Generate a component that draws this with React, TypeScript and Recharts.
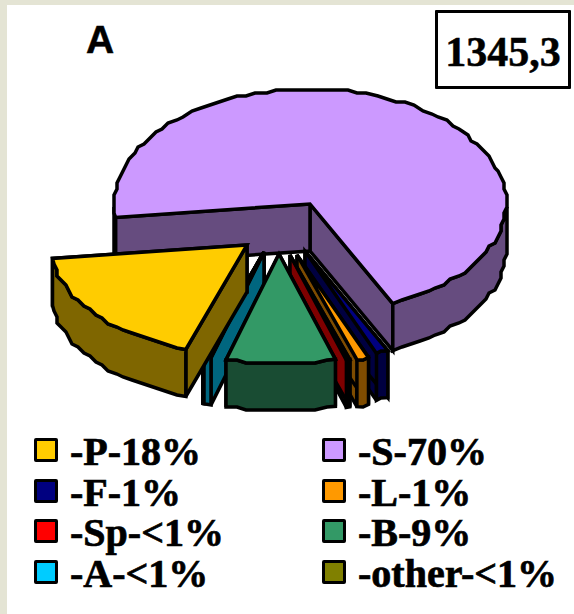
import React from "react";
import { PieChart, Pie } from "recharts";

const WIDTH = 574;
const HEIGHT = 614;

// Share of each component, in sweep order around the disc.
const names = ["S", "P", "other", "A", "B", "Sp", "L", "F"];
const shares = [70, 18, 0.1, 0.6, 9, 0.3, 1, 1];
const fills = ["#CC99FF", "#FFCC00", "#808000", "#00CCFF", "#339966", "#FF0000", "#FF9900", "#000080"];

// Back-to-front painting order of the exploded slices.
const paintOrder = ["S", "F", "L", "Sp", "other", "A", "P", "B"];

// How far each slice is pulled away from the disc centre.
const pullX = { S: 0, P: -63, other: -46, A: -46, B: -31, Sp: -20, L: -13, F: -5 };
const pullY = { S: 0, P: 41, other: 48, A: 48, B: 50, Sp: 51, L: 51, F: 47 };

const legendRows = [
  ["-P-18%", "#FFCC00", "-S-70%", "#CC99FF"],
  ["-F-1%", "#000080", "-L-1%", "#FF9900"],
  ["-Sp-<1%", "#FF0000", "-B-9%", "#339966"],
  ["-A-<1%", "#00CCFF", "-other-<1%", "#808000"],
];

const pieData = names.map((name, i) => ({ name, share: shares[i], fill: fills[i] }));

const SQUASH_BACK = 115 / 196;
const SQUASH_FRONT = 110 / 196;
const DEPTH = 47;
const RIM_GRID = 3;

function halve(hex: string) {
  const n = parseInt(hex.slice(1), 16);
  const r = (n >> 16) >> 1;
  const g = ((n >> 8) & 255) >> 1;
  const b = (n & 255) >> 1;
  return `rgb(${r},${g},${b})`;
}

function rimPoint(cx: number, cy: number, r: number, deg: number) {
  const a = (deg * Math.PI) / 180;
  const s = Math.sin(a);
  return [cx + r * Math.cos(a), cy - r * s * (s > 0 ? SQUASH_BACK : SQUASH_FRONT)];
}

// Rim outline on a coarse grid, which gives the edge its stepped look.
function rimPath(cx: number, cy: number, r: number, from: number, to: number) {
  const pts: number[][] = [];
  const steps = Math.max(1, Math.ceil(Math.abs(to - from) / 3));
  for (let i = 0; i <= steps; i++) {
    const p = rimPoint(cx, cy, r, from + ((to - from) * i) / steps);
    if (i === 0 || i === steps) pts.push(p);
    else pts.push([Math.round(p[0] / RIM_GRID) * RIM_GRID, Math.round(p[1] / RIM_GRID) * RIM_GRID]);
  }
  return pts;
}

const toPath = (pts: number[][]) =>
  "M" + pts.map((p) => `${p[0].toFixed(1)},${p[1].toFixed(1)}`).join("L") + "Z";

// One extruded slice: radial walls, the front part of the rim, then the top face.
function slice3d(props: any, only: string) {
  const { cx, cy, outerRadius, startAngle, endAngle, name, fill } = props;
  if (name !== only) return <g />;
  const x = cx + (pullX as any)[name];
  const y = cy + (pullY as any)[name];
  const lo = Math.min(startAngle, endAngle);
  const hi = Math.max(startAngle, endAngle);
  const rim = rimPath(x, y, outerRadius, lo, hi);
  const wall = halve(fill);
  const line = { stroke: "#000", strokeWidth: 3.5, strokeLinejoin: "miter" as const, strokeMiterlimit: 3 };

  const radial = (deg: number) => {
    const p = rimPoint(x, y, outerRadius, deg);
    return toPath([[x, y], p, [p[0], p[1] + DEPTH], [x, y + DEPTH]]);
  };

  const frontRuns: number[][][] = [];
  let run: number[][] = [];
  rim.forEach((p, i) => {
    const deg = lo + ((hi - lo) * i) / (rim.length - 1);
    const norm = ((deg % 360) + 360) % 360;
    if (norm >= 180 && norm <= 360) run.push(p);
    else if (run.length) {
      frontRuns.push(run);
      run = [];
    }
  });
  if (run.length) frontRuns.push(run);

  return (
    <g>
      <path d={radial(lo)} fill={wall} {...line} />
      <path d={radial(hi)} fill={wall} {...line} />
      {frontRuns.map((r, i) => (
        <path
          key={i}
          d={toPath([...r, ...r.slice().reverse().map((p) => [p[0], p[1] + DEPTH])])}
          fill={wall}
          {...line}
        />
      ))}
      <path d={toPath([[x, y], ...rim])} fill={fill} {...line} />
    </g>
  );
}

function LegendTable() {
  return (
    <div style={{ position: "absolute", left: 0, top: 0, width: WIDTH, height: HEIGHT }}>
      {legendRows.map((row, i) => (
        <React.Fragment key={i}>
          {[0, 1].map((c) => (
            <React.Fragment key={c}>
              <div
                style={{
                  position: "absolute",
                  left: c === 0 ? 34 : 322,
                  top: 438 + i * 40.5,
                  width: 18,
                  height: 18,
                  background: row[c * 2 + 1],
                  border: "3px solid #000",
                  borderRadius: 2,
                }}
              />
              <div
                style={{
                  position: "absolute",
                  left: c === 0 ? 70 : 358,
                  top: 433 + i * 40.5,
                  fontFamily: "'Liberation Serif', serif",
                  fontWeight: 700,
                  fontSize: 40,
                  lineHeight: "38px",
                  height: 38,
                  color: "#000",
                  whiteSpace: "nowrap",
                  WebkitTextStroke: "0.7px #000",
                }}
              >
                {row[c * 2]}
              </div>
            </React.Fragment>
          ))}
        </React.Fragment>
      ))}
    </div>
  );
}

export default function App() {
  return (
    <div
      style={{
        position: "fixed",
        left: 0,
        top: 0,
        width: WIDTH,
        height: HEIGHT,
        background: "#E4E4D4",
        overflow: "hidden",
      }}
    >
      <div style={{ position: "absolute", left: 7, top: 5, right: 0, bottom: 0, background: "#fff" }} />
      <PieChart
        width={WIDTH}
        height={HEIGHT}
        margin={{ top: 0, right: 0, bottom: 0, left: 0 }}
        style={{ position: "absolute", left: 0, top: 0 }}
      >
        {paintOrder.map((layer) => (
          <Pie
            key={layer}
            data={pieData}
            dataKey="share"
            nameKey="name"
            cx={310}
            cy={204}
            outerRadius={196}
            startAngle={-65}
            endAngle={295}
            paddingAngle={0}
            isAnimationActive={false}
            legendType="none"
            shape={(props: any) => slice3d(props, layer)}
          />
        ))}
      </PieChart>
      <LegendTable />
      <div
        style={{
          position: "absolute",
          left: 86,
          top: 18,
          fontFamily: "'Liberation Sans', sans-serif",
          fontWeight: 700,
          fontSize: 39,
          lineHeight: "44px",
          WebkitTextStroke: "0.5px #000",
        }}
      >
        A
      </div>
      <div
        style={{
          position: "absolute",
          left: 435,
          top: 10,
          width: 130,
          height: 73,
          border: "3px solid #000",
          borderRadius: 1,
          fontFamily: "'Liberation Serif', serif",
          fontWeight: 700,
          fontSize: 42,
          lineHeight: "78px",
          textAlign: "center",
          whiteSpace: "nowrap",
          WebkitTextStroke: "0.5px #000",
        }}
      >
        1345,3
      </div>
    </div>
  );
}
